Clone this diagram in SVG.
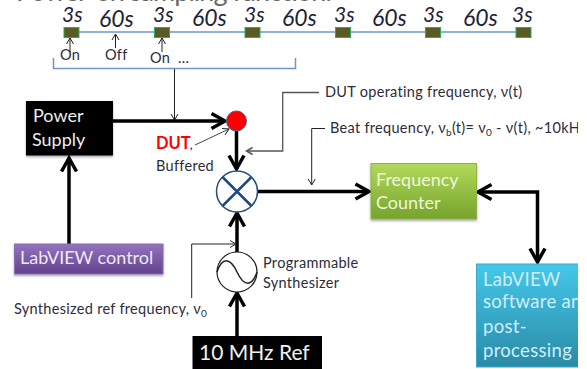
<svg xmlns="http://www.w3.org/2000/svg" width="587" height="369" viewBox="0 0 587 369">
<style>
text{font-family:Lato,"Open Sans",sans-serif;fill:#2c2c3c}
.s{font-size:14.500px;letter-spacing:0.300px}
.it{font-size:21px;font-style:italic;fill:#1c2436}
.it6{font-size:23px;font-style:italic;fill:#1c2436}
.w{fill:#f0f0f0;font-size:18px}
.b{fill:#cdeef8;font-size:18.500px;letter-spacing:0.300px}
.pulse{fill:#5a5a24;stroke:#26ad64;stroke-width:1}
.thick{fill:none;stroke:#000;stroke-width:3.500}
.thin{fill:none;stroke:#222;stroke-width:1}
.sub{font-size:10px}
</style>
<defs>
<marker id="big" markerUnits="userSpaceOnUse" markerWidth="22" markerHeight="22" refX="15" refY="10" orient="auto-start-reverse" viewBox="0 0 22 22"><path d="M1.500 2.500L15 10L1.500 17.500" fill="none" stroke="#000" stroke-width="3.500"/></marker>
<marker id="small" markerUnits="userSpaceOnUse" markerWidth="10" markerHeight="10" refX="7" refY="4" orient="auto" viewBox="0 0 10 8"><path d="M1 0.500L7 4L1 7.500" fill="none" stroke="#222" stroke-width="1"/></marker>
<marker id="gray" markerUnits="userSpaceOnUse" markerWidth="10" markerHeight="10" refX="7" refY="4" orient="auto" viewBox="0 0 10 8"><path d="M1 0.500L7 4L1 7.500" fill="none" stroke="#555" stroke-width="1.500"/></marker>
<linearGradient id="green" x1="0" y1="0" x2="0" y2="1"><stop offset="0" stop-color="#b2d95a"/><stop offset="1" stop-color="#76a32e"/></linearGradient>
<linearGradient id="purple" x1="0" y1="0" x2="0" y2="1"><stop offset="0" stop-color="#9373bd"/><stop offset="1" stop-color="#64428e"/></linearGradient>
<linearGradient id="blue" x1="0" y1="0" x2="0" y2="1"><stop offset="0" stop-color="#45c8ea"/><stop offset="1" stop-color="#2a8aa6"/></linearGradient>
<filter id="shadow" x="-10%" y="-10%" width="120%" height="125%"><feDropShadow dx="0" dy="1.500" stdDeviation="1.200" flood-color="#000" flood-opacity="0.350"/></filter>
<clipPath id="clipR"><rect x="0" y="0" width="578" height="369"/></clipPath>
</defs>

<g id="title"><text x="16" y="1" font-size="27" textLength="316" style="fill:#666">Power-on sampling function:</text></g>

<g id="timeline">
<line x1="70" y1="32" x2="524" y2="32" stroke="#6f97c6" stroke-width="1.500"/>
<rect class="pulse" x="64" y="27.500" width="15" height="10"/>
<rect class="pulse" x="154.500" y="27.500" width="15" height="10"/>
<rect class="pulse" x="245" y="27.500" width="15" height="10"/>
<rect class="pulse" x="335.500" y="27.500" width="15" height="10"/>
<rect class="pulse" x="425.500" y="27.500" width="15" height="10"/>
<rect class="pulse" x="516" y="27.500" width="15" height="10"/>
<text class="it" x="62" y="22">3s</text><text class="it6" x="99" y="27">60s</text>
<text class="it" x="153" y="22">3s</text><text class="it6" x="192" y="26">60s</text>
<text class="it" x="244" y="22">3s</text><text class="it6" x="282" y="26">60s</text>
<text class="it" x="334" y="22">3s</text><text class="it6" x="372" y="26">60s</text>
<text class="it" x="423" y="22">3s</text><text class="it6" x="463" y="26">60s</text>
<text class="it" x="512" y="22">3s</text>
<text class="s" x="60" y="60">On</text><text class="s" x="105" y="60">Off</text><text class="s" x="150" y="63">On</text><text class="s" x="178" y="63">...</text>
<path d="M53.500 58V68.500H295.500V58" fill="none" stroke="#6f97c6" stroke-width="1.500"/>
</g>

<g id="connectors">
<path class="thin" d="M70 52V38" marker-end="url(#small)"/>
<path class="thin" d="M115.500 48V34" marker-end="url(#small)"/>
<path class="thin" d="M162 52V38" marker-end="url(#small)"/>
<path class="thin" d="M174.500 69V120" marker-end="url(#small)"/>
<path class="thick" d="M113 121H225" marker-end="url(#big)"/>
<path class="thick" d="M236.500 131V169" marker-end="url(#big)"/>
<path class="thin" d="M195 145L229 129" style="stroke:#444" marker-end="url(#small)"/>
<path class="thin" d="M319 92.500H282.700V151H246.500" style="stroke:#555;stroke-width:1.300" marker-end="url(#gray)"/>
<path class="thin" d="M325 128.500H311.700V185" marker-end="url(#small)"/>
<path class="thick" d="M258 191.500H369" marker-end="url(#big)"/>
<path class="thick" d="M478 192H537.500V262" marker-start="url(#big)" marker-end="url(#big)"/>
<path class="thick" d="M69 244V158" marker-end="url(#big)"/>
<path class="thick" d="M237 252V213" marker-end="url(#big)"/>
<path class="thin" d="M191.700 298V244H236" marker-end="url(#small)"/>
<path class="thick" d="M237 336V293" marker-end="url(#big)"/>
</g>

<g id="power-supply">
<rect x="26" y="101" width="87" height="54.500" fill="#000" filter="url(#shadow)"/>
<text class="w" x="33" y="122" style="fill:#eee">Power</text><text class="w" x="32" y="146" style="fill:#eee">Supply</text>
</g>
<g id="dut">
<circle cx="236.500" cy="121" r="10" fill="#f00" stroke="#3d5f8f"/>
<text x="156" y="149" font-size="16.500" font-weight="700" style="fill:#f00">DUT</text>
<text x="189.500" y="149" font-size="14">,</text>
<text class="s" x="156" y="171">Buffered</text>
</g>
<g id="mixer">
<circle cx="237" cy="191.500" r="20.500" fill="#fff" stroke="#2a4a7c" stroke-width="1.500"/>
<path d="M222.500 177L251.500 206M251.500 177L222.500 206" stroke="#1f4a80" stroke-width="2.500"/>
</g>
<g id="dut-label"><text class="s" x="325" y="97">DUT operating frequency, ν(t)</text></g>
<g id="beat-label"><text class="s" x="330" y="133" clip-path="url(#clipR)">Beat frequency, ν<tspan class="sub" dy="3">b</tspan><tspan dy="-3">(t)= ν</tspan><tspan class="sub" dy="3">0</tspan><tspan dy="-3"> - ν(t), ~10kHz</tspan></text></g>
<g id="frequency-counter">
<rect x="371" y="163.500" width="105.500" height="55.500" fill="url(#green)" stroke="#8fb243" filter="url(#shadow)"/>
<text class="w" x="376" y="186" style="fill:#eef6dc">Frequency</text><text class="w" x="376" y="209" style="fill:#eef6dc">Counter</text>
</g>
<g id="labview-control">
<rect x="14.500" y="244" width="148.500" height="30" fill="url(#purple)" stroke="#8a6fb0" filter="url(#shadow)"/>
<text class="w" x="20" y="264" style="fill:#eee8f6">LabVIEW control</text>
</g>
<g id="synthesizer">
<circle cx="237" cy="272" r="20" fill="#fff" stroke="#222" stroke-width="1.200"/>
<path d="M217 272C222 257 230 257 237 272S252 287 257 272" fill="none" stroke="#222" stroke-width="1.500"/>
<text class="s" x="263" y="268">Programmable</text><text class="s" x="263" y="288">Synthesizer</text>
</g>
<g id="ref-label"><text class="s" x="14" y="314">Synthesized ref frequency, ν<tspan class="sub" dy="3">0</tspan></text></g>
<g id="ref">
<rect x="192.500" y="336" width="129.500" height="33" fill="#000"/>
<text x="199" y="360" font-size="21" style="fill:#f0f0f0">10 MHz Ref</text>
</g>
<g id="labview-software" clip-path="url(#clipR)">
<rect x="476.500" y="264" width="110" height="103" fill="url(#blue)" stroke="#3aa8c8"/>
<text class="b" x="483" y="286">LabVIEW</text>
<text class="b" x="483" y="308">software and</text>
<text class="b" x="483" y="333">post-</text>
<text class="b" x="483" y="357">processing</text>
</g>
</svg>
